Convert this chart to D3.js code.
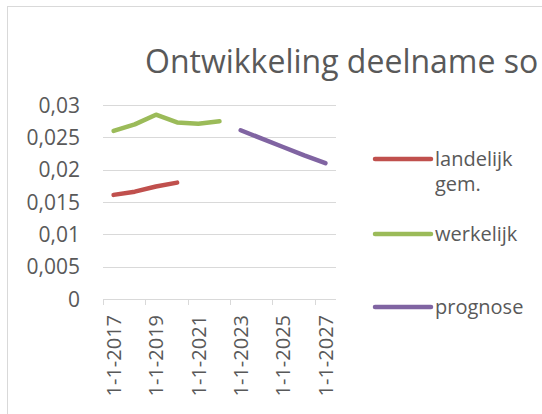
<!DOCTYPE html>
<html lang="nl">
<head>
<meta charset="UTF-8">
<title>Ontwikkeling deelname</title>
<script src="https://d3js.org/d3.v7.min.js"></script>
<style>
  body { margin: 0; background: #fff; }
  text { font-family: "Open Sans", sans-serif; fill: #595959; }
</style>
</head>
<body>
<div id="chart"></div>
<script>
// categories (dates on the axis, one per year)
const years = ['1-1-2017', '1-1-2018', '1-1-2019', '1-1-2020', '1-1-2021', '1-1-2022',
               '1-1-2023', '1-1-2024', '1-1-2025', '1-1-2026', '1-1-2027'];
const tickLabels = ['1-1-2017', '1-1-2019', '1-1-2021', '1-1-2023', '1-1-2025', '1-1-2027'];

// series values (null = no value)
const landelijk = [0.0161, 0.0166, 0.0174, 0.0180, null, null, null, null, null, null, null];
const werkelijk = [0.0260, 0.0270, 0.0285, 0.0273, 0.0271, 0.0275, null, null, null, null, null];
const prognose  = [null, null, null, null, null, null, 0.0261, 0.0248, 0.0235, 0.0222, 0.0210];

const yTicks = [0, 0.005, 0.01, 0.015, 0.02, 0.025, 0.03];

const series = [
    {name: ['landelijk', 'gem.'], values: landelijk, color: '#c0504d'},
    {name: ['werkelijk'], values: werkelijk, color: '#9bbb59'},
    {name: ['prognose'], values: prognose, color: '#8064a2'}
];

const W = 542, H = 414;
const plot = {left: 103, right: 336, top: 105, bottom: 299};

const svg = d3.select('#chart').append('svg')
    .attr('width', W)
    .attr('height', H);

// chart border (runs off the right and bottom edges)
svg.append('rect')
    .attr('x', 7.5).attr('y', 6.5)
    .attr('width', W + 20).attr('height', H + 20)
    .attr('fill', '#fff')
    .attr('stroke', '#d9d9d9');

// title
svg.append('text')
    .attr('x', 145).attr('y', 73)
    .style('font-size', '32px')
    .text('Ontwikkeling deelname so');

const x = d3.scaleBand()
    .domain(years)
    .range([plot.left, plot.right]);

const y = d3.scaleLinear()
    .domain([0, 0.03])
    .range([plot.bottom, plot.top]);

const nl = d3.formatLocale({decimal: ',', thousands: '.', grouping: [3], currency: ['€', '']});
const fmt = nl.format('.3~f');

// gridlines
svg.append('g')
    .selectAll('line')
    .data(yTicks.filter(d => d > 0))
    .join('line')
    .attr('x1', plot.left).attr('x2', plot.right)
    .attr('y1', d => Math.round(y(d)) + 0.5)
    .attr('y2', d => Math.round(y(d)) + 0.5)
    .attr('stroke', '#d9d9d9')
    .attr('stroke-width', 1);

// y labels
svg.append('g')
    .selectAll('text')
    .data(yTicks)
    .join('text')
    .attr('x', 80)
    .attr('y', d => y(d))
    .attr('dy', '0.36em')
    .attr('text-anchor', 'end')
    .style('font-size', '21px')
    .text(d => fmt(d));

// x axis line + ticks
const xAxis = svg.append('g');
xAxis.append('line')
    .attr('x1', plot.left).attr('x2', plot.right)
    .attr('y1', plot.bottom + 0.5).attr('y2', plot.bottom + 0.5)
    .attr('stroke', '#d9d9d9');
xAxis.selectAll('line.tick')
    .data(tickLabels)
    .join('line')
    .attr('class', 'tick')
    .attr('x1', d => Math.round(x(d)) + 0.5)
    .attr('x2', d => Math.round(x(d)) + 0.5)
    .attr('y1', plot.bottom)
    .attr('y2', plot.bottom + 6)
    .attr('stroke', '#d9d9d9');
xAxis.selectAll('text')
    .data(tickLabels)
    .join('text')
    .attr('transform', d => `translate(${x(d) + x.bandwidth() / 2}, ${plot.bottom + 16}) rotate(-90)`)
    .attr('dy', '0.36em')
    .attr('text-anchor', 'end')
    .style('font-size', '20px')
    .text(d => d);

// lines
const line = d3.line()
    .defined(d => d.v != null)
    .x(d => x(d.year) + x.bandwidth() / 2)
    .y(d => y(d.v));

svg.append('g')
    .selectAll('path')
    .data(series)
    .join('path')
    .attr('d', s => line(years.map((yr, i) => ({year: yr, v: s.values[i]}))))
    .attr('fill', 'none')
    .attr('stroke', s => s.color)
    .attr('stroke-width', 4.5)
    .attr('stroke-linecap', 'round')
    .attr('stroke-linejoin', 'round');

// legend
const legendY = [159, 234, 307];
const legend = svg.append('g')
    .selectAll('g')
    .data(series)
    .join('g')
    .attr('transform', (d, i) => `translate(375, ${legendY[i]})`);

legend.append('line')
    .attr('x1', 0).attr('x2', 56)
    .attr('stroke', d => d.color)
    .attr('stroke-width', 4.5)
    .attr('stroke-linecap', 'round');

legend.append('text')
    .attr('x', 60)
    .style('font-size', '20px')
    .selectAll('tspan')
    .data(d => d.name)
    .join('tspan')
    .attr('x', 60)
    .attr('y', (d, i) => i * 25)
    .attr('dy', '0.36em')
    .text(d => d);
</script>
</body>
</html>
